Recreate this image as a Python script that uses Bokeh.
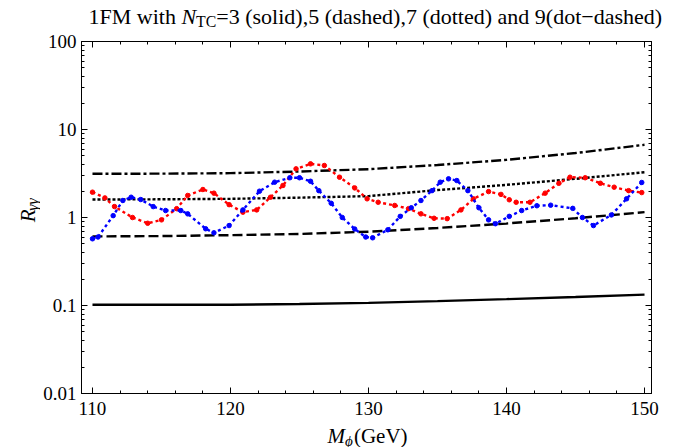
import numpy as np
from bokeh.plotting import figure
from bokeh.layouts import column, row
from bokeh.models import (Range1d, LinearAxis, LogAxis, FixedTicker, Label,
                          CustomJSTickFormatter)
from bokeh.embed import file_html
from bokeh.resources import INLINE

# ---------------- data ----------------
mass_grid = [110, 115, 120, 125, 130, 135, 140, 145, 150]
r_ntc3 = [0.102, 0.102, 0.102, 0.104, 0.107, 0.112, 0.118, 0.125, 0.133]
r_ntc5 = [0.61, 0.615, 0.63, 0.65, 0.69, 0.76, 0.855, 0.98, 1.15]
r_ntc7 = [1.60, 1.61, 1.63, 1.68, 1.75, 2.05, 2.35, 2.75, 3.27]
r_ntc9 = [3.14, 3.15, 3.19, 3.33, 3.54, 3.95, 4.52, 5.4, 6.7]

red_mass = [110.0, 110.9, 111.6, 112.9, 114.0, 115.0, 116.1, 116.9, 118.0, 118.8,
            119.9, 120.9, 121.9, 122.9, 123.8, 124.75, 125.8, 126.8, 127.9, 129.0,
            129.9, 130.7, 131.9, 132.9, 133.8, 134.75, 135.7, 136.7, 137.6, 138.7,
            139.6, 140.2, 140.7, 141.7, 142.8, 143.8, 144.6, 145.7, 146.8, 147.8,
            148.85, 149.8]
red_r = [1.94, 1.67, 1.33, 1.00, 0.86, 0.94, 1.26, 1.78, 2.08, 1.89,
         1.40, 1.15, 1.22, 1.70, 2.31, 3.57, 4.07, 3.90, 2.87, 2.17,
         1.63, 1.49, 1.37, 1.26, 1.10, 0.98, 0.97, 1.22, 1.63, 1.97,
         1.83, 1.59, 1.49, 1.49, 1.89, 2.45, 2.87, 2.83, 2.45, 2.21,
         2.02, 1.92]

blue_mass = [110.0, 110.4, 111.5, 112.2, 112.8, 113.5, 114.4, 115.3, 116.4, 116.9,
             118.2, 118.8, 119.9, 120.9, 122.1, 123.2, 124.3, 125.0, 125.8, 126.4,
             127.3, 128.1, 129.0, 129.8, 130.3, 131.4, 132.3, 133.1, 133.8, 134.6,
             135.2, 135.8, 136.4, 137.2, 138.0, 138.7, 139.2, 140.2, 141.1, 142.2,
             143.2, 144.8, 145.5, 146.3, 147.6, 148.7, 149.8]
blue_r = [0.573, 0.60, 1.05, 1.56, 1.70, 1.60, 1.33, 1.20, 1.20, 1.10,
          0.745, 0.67, 0.81, 1.22, 1.99, 2.52, 2.83, 2.83, 2.58, 2.02,
          1.45, 1.00, 0.74, 0.60, 0.588, 0.725, 1.03, 1.29, 1.56, 2.02,
          2.52, 2.75, 2.63, 2.02, 1.29, 0.94, 0.85, 1.03, 1.20, 1.36,
          1.38, 1.27, 1.00, 0.81, 1.07, 1.63, 2.5]

x_major = [110, 120, 130, 140, 150]
x_minor = list(range(110, 151, 2))
y_major = [0.01, 0.1, 1, 10, 100]
y_minor = [k * 10.0 ** e for e in range(-2, 2) for k in range(2, 10)]

title_text = "=3 (solid),5 (dashed),7 (dotted) and 9(dot\u2212dashed)"

# ---------------- page geometry (page pixels; canvas starts at 0,0) ----------------
PW, PH = 680, 447
TITLE_H = 31            # title strip height
YLAB_W = 40             # y-label strip width
MAIN_BOTTOM = 425       # bottom of main figure on page
MAIN_H = MAIN_BOTTOM - TITLE_H
XLAB_H = PH - MAIN_BOTTOM
BASE_FIX = 6            # measured shift of the rendered baseline

FONT = "Liberation Serif"

def strip(w, h):
    f = figure(width=w, height=h, output_backend="svg", toolbar_location=None,
               title=None,
               x_range=Range1d(0, w), y_range=Range1d(0, h),
               x_axis_location=None, y_axis_location=None,
               min_border=0, min_border_left=0, min_border_right=0,
               min_border_top=0, min_border_bottom=0,
               background_fill_color="white", border_fill_color="white")
    f.outline_line_color = None
    f.xgrid.visible = False
    f.ygrid.visible = False
    return f

# ---------------- main figure ----------------
p = figure(width=PW - YLAB_W, height=MAIN_H, output_backend="svg", toolbar_location=None,
           title=None,
           x_range=Range1d(109.204, 150.506), y_range=Range1d(0.01, 100),
           y_axis_type="log", x_axis_location=None, y_axis_location=None,
           min_border_left=80 - YLAB_W, min_border_right=PW - 651,
           min_border_top=41 - TITLE_H, min_border_bottom=MAIN_BOTTOM - 393,
           background_fill_color="white", border_fill_color="white")
p.xgrid.visible = False
p.ygrid.visible = False
p.outline_line_color = "black"
p.outline_line_width = 1

def style_axis(ax, show_labels, standoff):
    ax.axis_line_color = "black"
    ax.axis_line_width = 1
    ax.major_tick_in = 6
    ax.major_tick_out = 0
    ax.minor_tick_in = 3
    ax.minor_tick_out = 0
    ax.major_tick_line_color = "black"
    ax.minor_tick_line_color = "black"
    ax.major_label_text_font = FONT
    ax.major_label_text_color = "black"
    if show_labels:
        ax.major_label_text_font_size = "19px"
        ax.major_label_standoff = standoff
        ax.formatter = CustomJSTickFormatter(code="return tick.toString();")
    else:
        ax.major_label_text_font_size = "0px"
        ax.major_label_standoff = 0
        ax.formatter = CustomJSTickFormatter(code="return '';")

xb = LinearAxis(ticker=FixedTicker(ticks=x_major, minor_ticks=x_minor))
xt = LinearAxis(ticker=FixedTicker(ticks=x_major, minor_ticks=x_minor))
yl = LogAxis(ticker=FixedTicker(ticks=y_major, minor_ticks=y_minor))
yr = LogAxis(ticker=FixedTicker(ticks=y_major, minor_ticks=y_minor))
style_axis(xb, True, 8)
style_axis(xt, False, 0)
style_axis(yl, True, 5)
style_axis(yr, False, 0)
p.add_layout(xb, "below")
p.add_layout(xt, "above")
p.add_layout(yl, "left")
p.add_layout(yr, "right")

LW = 2.4
p.line(mass_grid, r_ntc3, line_color="black", line_width=LW)
p.line(mass_grid, r_ntc5, line_color="black", line_width=LW, line_dash="10 4")
p.line(mass_grid, r_ntc7, line_color="black", line_width=LW, line_dash="3 2")
p.line(mass_grid, r_ntc9, line_color="black", line_width=LW, line_dash="10 3 3 3")

p.line(red_mass, red_r, line_color="#ff0000", line_width=LW, line_dash="3 3")
p.scatter(red_mass, red_r, size=4.5, color="#ff0000")
p.line(blue_mass, blue_r, line_color="#0000ff", line_width=LW, line_dash="3 3")
p.scatter(blue_mass, blue_r, size=4.5, color="#0000ff")

# ---------------- rich text runs (Labels inside text strips) ----------------
TR = {' ': 250, '(': 333, ')': 333, ',': 250, '.': 250, '=': 564, '\u2212': 564,
      'C': 667, 'F': 556, 'G': 722, 'M': 889, 'N': 722, 'T': 611, 'V': 722,
      'R': 667, 'a': 444, 'd': 500, 'e': 444, 'h': 500, 'i': 278, 'l': 278,
      'n': 500, 'o': 500, 's': 389, 't': 278, 'w': 722}
for c in "0123456789":
    TR[c] = 500
TI = {'N': 667, 'M': 833, 'R': 611, '\u03b3': 440, '\u03d5': 600}

def tw(s, size, italic):
    tbl = TI if italic else TR
    return sum(tbl.get(c, TR.get(c, 500)) for c in s) * size / 1000.0

def total(runs):
    return sum(tw(t, s, i) for t, s, i, d in runs)

def draw_runs(fig, runs, x0, y0, vertical=False):
    pos = 0.0
    for text, size, italic, drop in runs:
        if vertical:
            lab = Label(x=x0 + drop, y=y0 + pos, angle=np.pi / 2)
        else:
            lab = Label(x=x0 + pos, y=y0 - drop)
        lab.text = text
        lab.text_font = FONT
        lab.text_font_size = "%gpx" % size
        lab.text_font_style = "italic" if italic else "normal"
        lab.text_color = "black"
        lab.text_align = "left"
        lab.text_baseline = "alphabetic"
        fig.add_layout(lab)
        pos += tw(text, size, italic)

# title strip (baseline at page y = 22)
TS = 22
tfig = strip(PW, TITLE_H)
title_runs = [("1FM with ", TS, False, 0),
              ("N", TS, True, 0),
              ("TC", TS * 0.72, False, 5),
              (title_text, TS, False, 0)]
draw_runs(tfig, title_runs, 88, TITLE_H - 22 + BASE_FIX)

# y-label strip (baseline at page x = 33, centred at page y = 220)
AS = 21
yfig = strip(YLAB_W, MAIN_H)
ylab_runs = [("R", AS, True, 0), ("\u03b3\u03b3", AS * 0.75, True, 5)]
draw_runs(yfig, ylab_runs, 33 - BASE_FIX, (MAIN_BOTTOM - 220) - total(ylab_runs) / 2,
          vertical=True)

# x-label strip (baseline at page y = 441)
xfig = strip(PW, XLAB_H)
xlab_runs = [("M", AS, True, 0), ("\u03d5", AS * 0.72, True, 5), ("(GeV)", AS, False, 0)]
draw_runs(xfig, xlab_runs, 367 - total(xlab_runs) / 2, PH - 441 + BASE_FIX)

layout = column(tfig, row(yfig, p), xfig)
open("out.html", "w").write(file_html(layout, INLINE))
